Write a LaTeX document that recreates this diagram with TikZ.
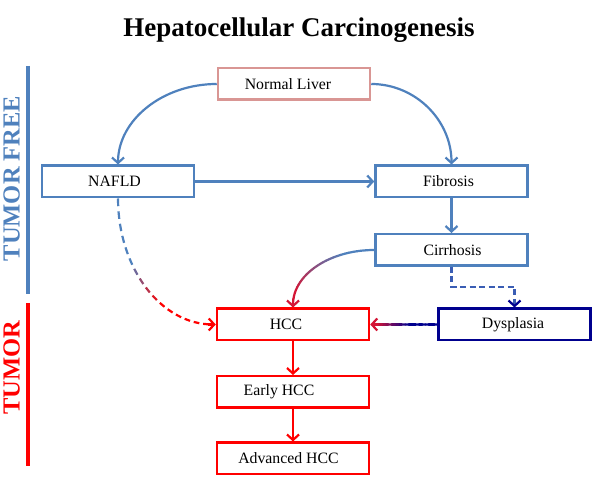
\documentclass[tikz,border=0pt]{standalone}
\usepackage{fontspec}
\setmainfont{Liberation Serif}
\usetikzlibrary{arrows.meta,calc}
\definecolor{cblue}{HTML}{4F81BD}
\definecolor{cpink}{HTML}{D99694}
\definecolor{cred}{HTML}{FF0000}
\definecolor{cnavy}{HTML}{00008E}
\definecolor{ccrim}{HTML}{D41535}
\definecolor{cdash}{HTML}{3A5DB4}

\newcommand{\bezpt}[6]{%
  \coordinate (bza) at ($(#1)!#5!(#2)$);%
  \coordinate (bzb) at ($(#2)!#5!(#3)$);%
  \coordinate (bzc) at ($(#3)!#5!(#4)$);%
  \coordinate (bzd) at ($(bza)!#5!(bzb)$);%
  \coordinate (bze) at ($(bzb)!#5!(bzc)$);%
  \coordinate (#6) at ($(bzd)!#5!(bze)$);%
}
% colour transition: starts at \gradS, lasts \gradW (fractions of the curve)
\newcommand{\gradS}{0}
\newcommand{\gradW}{1}
% #1 start, #2 corner, #3 end, #4 colA, #5 colB, #6 N, #7 frac, #8 extra options
\newcommand{\gradcurve}[8]{%
  \coordinate (gpa) at ($(#1)!0.55!(#2)$);%
  \coordinate (gpb) at ($(#3)!0.55!(#2)$);%
  \foreach \i in {1,...,#6}{%
    \pgfmathsetmacro{\ta}{(\i-1)/#6}%
    \pgfmathsetmacro{\tb}{(\i-1+#7)/#6}%
    \pgfmathsetmacro{\tm}{max(0,min(1,((\i-0.5)/#6-\gradS)/\gradW))}%
    \pgfmathtruncatemacro{\pc}{100*(1-\tm)}%
    \bezpt{#1}{gpa}{gpb}{#3}{\ta}{ga}%
    \bezpt{#1}{gpa}{gpb}{#3}{\tb}{gb}%
    \draw[conn, #8, draw=#4!\pc!#5] (ga) -- (gb);%
  }%
}

\begin{document}
\begin{tikzpicture}[x=1pt,y=1pt,
  box/.style={draw, line width=2.5pt, minimum width=152pt, minimum height=31.5pt,
    inner sep=0pt, font=\fontsize{15.8}{18}\selectfont},
  conn/.style={line width=2.2pt},
  arr/.style={-{Straight Barb[length=5.5pt,width=12pt]}},
  dsh/.style={dash pattern=on 6pt off 3.5pt},
  side/.style={rotate=90, anchor=south, inner sep=0pt, font=\bfseries\fontsize{24.5}{28}\selectfont},
]
\useasboundingbox (0,0) rectangle (597,481);

% title
\node[font=\bfseries\fontsize{27}{30}\selectfont, anchor=base, inner sep=0pt] (title) at (299,444) {Hepatocellular Carcinogenesis};

% side bars and labels
\coordinate (bt) at (28,415);
\coordinate (bb) at (28,187);
\coordinate (rt) at (28,178);
\coordinate (rb) at (28,15);
\draw[cblue, line width=4pt] (bt) -- (bb);
\draw[cred, line width=4pt] (rt) -- (rb);
\node[side, text=cblue] (tf) at (20,302.5) {TUMOR FREE};
\node[side, text=cred] (tm) at (20,113.5) {TUMOR};

% boxes
\node[box, draw=cpink] (nl) at (294,397) {\kern-12pt Normal Liver};
\node[box, draw=cblue] (naf) at (118,299.5) {\kern-7pt NAFLD};
\node[box, draw=cblue] (fib) at (451.5,299.5) {\kern-6pt Fibrosis};
\node[box, draw=cblue] (cir) at (451.5,231) {\kern2pt Cirrhosis};
\node[box, draw=cred] (hcc) at (293,156.5) {\kern-14pt HCC};
\node[box, draw=cnavy] (dys) at (514.5,156.5) {\kern-3pt Dysplasia};
\node[box, draw=cred] (ehcc) at (293,89) {\kern-28pt Early HCC};
\node[box, draw=cred] (ahcc) at (293,22.5) {\kern-9pt Advanced HCC};

% corner helpers
\coordinate (k1) at (nl.west -| naf.north);
\coordinate (k2) at (nl.east -| fib.north);

% blue connectors
\draw[conn, cblue, arr] (nl.west) .. controls ($(nl.west)!0.55!(k1)$) and ($(naf.north)!0.55!(k1)$) .. (naf.north);
\draw[conn, cblue, arr] (nl.east) .. controls ($(nl.east)!0.55!(k2)$) and ($(fib.north)!0.55!(k2)$) .. (fib.north);
\draw[conn, cblue, arr] (naf.east) -- (fib.west);
\draw[conn, cblue, arr] (fib.south) -- (cir.north);

% cirrhosis -> HCC (gradient)
\renewcommand{\gradS}{0.25}\renewcommand{\gradW}{0.6}
\coordinate (hccN) at ($(hcc.north)+(0,3)$);
\coordinate (k3) at (cir.west -| hcc.north);
\gradcurve{cir.west}{k3}{hccN}{cblue}{ccrim}{30}{1}{line cap=round}
\draw[conn, ccrim, arr] ($(hcc.north)+(0,8)$) -- (hcc.north);

% NAFLD -> HCC (dashed gradient)
\renewcommand{\gradS}{0.35}\renewcommand{\gradW}{0.3}
\coordinate (hccW) at ($(hcc.west)+(-3,0)$);
\coordinate (k4) at (naf.south |- hcc.west);
\gradcurve{naf.south}{k4}{hccW}{cblue}{cred}{16}{0.6}{line cap=butt}
\draw[conn, cred, arr] ($(hcc.west)+(-8,0)$) -- (hcc.west);

% cirrhosis -> dysplasia (dashed elbow)
\coordinate (elb) at (514.5,194);
\draw[conn, cdash, dsh, -{Straight Barb[length=5.5pt,width=12pt,color=cnavy]}] (cir.south) |- (elb) -- (dys.north);

% dysplasia -> HCC (gradient)
\renewcommand{\gradS}{0.45}\renewcommand{\gradW}{0.5}
\coordinate (hccE) at ($(hcc.east)+(3,0)$);
\coordinate (k5) at ($(dys.west)!0.5!(hccE)$);
\gradcurve{dys.west}{k5}{hccE}{cnavy}{ccrim}{20}{1}{line cap=round}
\draw[conn, ccrim, arr] ($(hcc.east)+(8,0)$) -- (hcc.east);

% red chain
\draw[conn, cred, arr] (hcc.south) -- (ehcc.north);
\draw[conn, cred, arr] (ehcc.south) -- (ahcc.north);
\end{tikzpicture}
\end{document}
